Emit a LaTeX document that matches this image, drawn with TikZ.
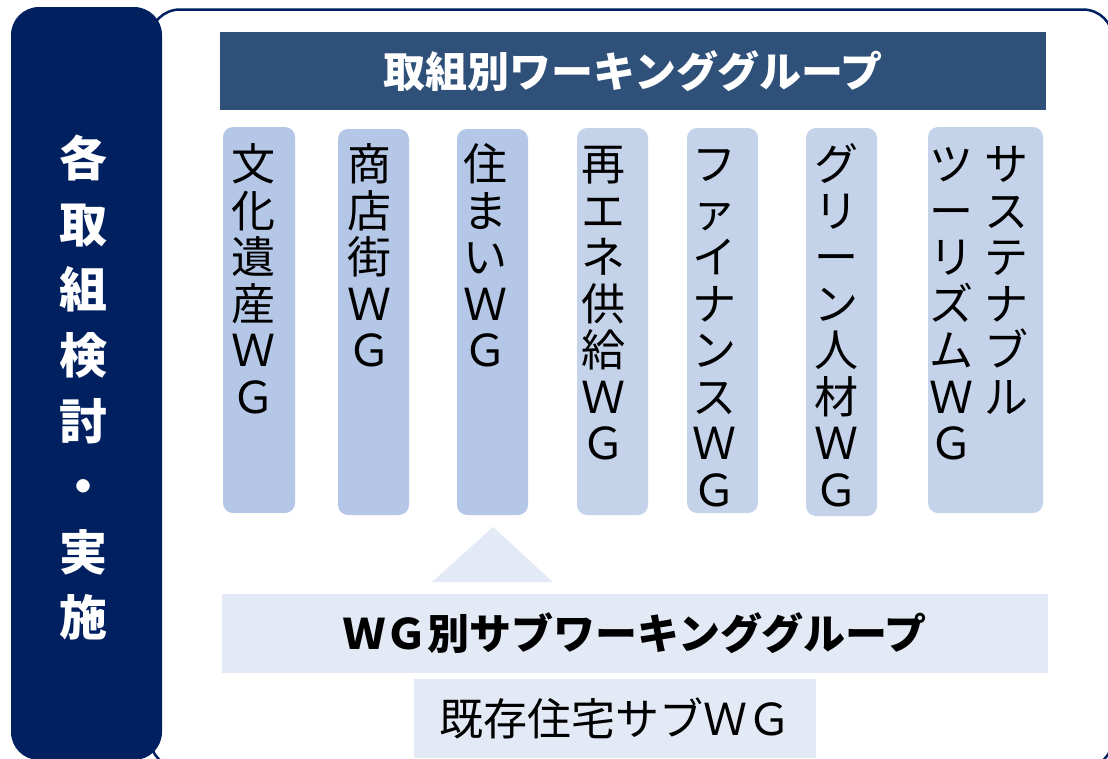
\documentclass[tikz,border=0pt]{standalone}
\usepackage{fontspec}
\newfontfamily\jp{Noto Sans CJK JP}
\definecolor{navy}{HTML}{002060}
\definecolor{hdrblue}{HTML}{2F5079}
\definecolor{colA}{HTML}{B4C7E7}
\definecolor{colB}{HTML}{C5D3EA}
\definecolor{pale}{HTML}{E3EAF5}
\newcommand\vstack[5]{%
  \foreach \ch [count=\i from 0] in {#5} {
    \node[#4] (#1-\i) at (#2, {#3+46.5*\i}) {\ch};
  }}
\begin{document}
\begin{tikzpicture}[x=1pt,y=-1pt,
  vch/.style={inner sep=0pt, text height=38.7pt, text depth=5.3pt, font=\jp\fontsize{44}{46}\selectfont},
  sidech/.style={inner sep=0pt, text height=42.2pt, text depth=5.8pt, text=white, font=\jp\bfseries\fontsize{48}{50}\selectfont},
  wgcol/.style={fill=#1, rounded corners=10pt, inner sep=0pt},
  bar42/.style={inner sep=0pt, text height=37pt, text depth=5pt, font=\jp\bfseries\fontsize{42}{44}\selectfont},
  bar44/.style={inner sep=0pt, text height=38.7pt, text depth=5.3pt, font=\jp\fontsize{44}{46}\selectfont}
]
\useasboundingbox (0,0) rectangle (1108,758);
\clip (0,0) rectangle (1108,758);
% outer frame
\draw[navy, line width=2.5pt, rounded corners=30pt] (150,9.5) rectangle (1113,768);
% left panel
\node[fill=navy, rounded corners=28pt, minimum width=151pt, minimum height=753pt, inner sep=0pt] (side) at (86.5,383.5) {};
\foreach \ch [count=\i from 0] in {各,取,組,検,討,・,実,施} {
  \node[sidech] (s-\i) at (83, {158.5+65.6*\i}) {\ch};
}
% header
\node[bar42, fill=hdrblue, minimum width=826pt, minimum height=78pt, text=white] (hdr) at (633,71) {取組別ワーキンググループ};
% columns
\node[wgcol=colA, minimum width=72pt, minimum height=386pt] (col1) at (259,320) {};
\node[wgcol=colA, minimum width=71pt, minimum height=386pt] (col2) at (373.5,322) {};
\node[wgcol=colA, minimum width=71pt, minimum height=386pt] (col3) at (492.5,322) {};
\node[wgcol=colB, minimum width=71pt, minimum height=387pt] (col4) at (612.5,321.5) {};
\node[wgcol=colB, minimum width=71pt, minimum height=385pt] (col5) at (722.5,320.5) {};
\node[wgcol=colB, minimum width=71pt, minimum height=388pt] (col6) at (841.5,322) {};
\node[wgcol=colB, minimum width=115pt, minimum height=386pt] (col7) at (985.5,320) {};
\vstack{t1}{253.5}{164}{vch}{文,化,遺,産,Ｗ,Ｇ}
\vstack{t2}{369}{164}{vch}{商,店,街,Ｗ,Ｇ}
\vstack{t3}{485}{164}{vch}{住,ま,い,Ｗ,Ｇ}
\vstack{t4}{603}{164}{vch}{再,エ,ネ,供,給,Ｗ,Ｇ}
\vstack{t5}{714}{164}{vch}{フ,ァ,イ,ナ,ン,ス,Ｗ,Ｇ}
\vstack{t6}{836}{164}{vch}{グ,リ,ー,ン,人,材,Ｗ,Ｇ}
\vstack{t7a}{1006}{164}{vch}{サ,ス,テ,ナ,ブ,ル}
\vstack{t7b}{951}{164}{vch}{ツ,ー,リ,ズ,ム,Ｗ,Ｇ}
% triangle
\fill[pale] (493,527) -- (553,582) -- (432,582) -- cycle;
% sub bar
\node[bar42, fill=pale, minimum width=826pt, minimum height=79pt] (sub) at (635,633.5) {ＷＧ別サブワーキンググループ};
\node[bar44, fill=pale, minimum width=402pt, minimum height=79pt] (exist) at (615,718.5) {既存住宅サブＷＧ};
\end{tikzpicture}
\end{document}
